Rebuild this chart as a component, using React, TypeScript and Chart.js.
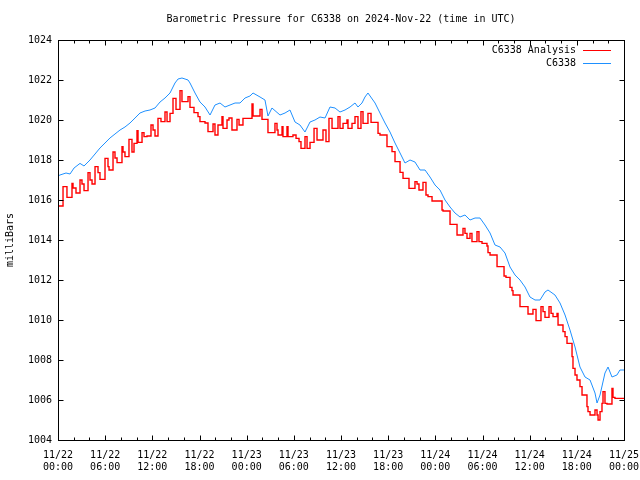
import React, { useEffect, useRef } from "react";
import { Chart, registerables } from "chart.js";

Chart.register(...registerables);

const chartTitle = "Barometric Pressure for C6338 on 2024-Nov-22 (time in UTC)";
const yAxisTitle = "milliBars";
const seriesNames = ["C6338 Analysis", "C6338"];

const xTickLabels = [
  ["11/22", "00:00"], ["11/22", "06:00"], ["11/22", "12:00"], ["11/22", "18:00"],
  ["11/23", "00:00"], ["11/23", "06:00"], ["11/23", "12:00"], ["11/23", "18:00"],
  ["11/24", "00:00"], ["11/24", "06:00"], ["11/24", "12:00"], ["11/24", "18:00"],
  ["11/25", "00:00"],
];

// hours since 11/22 00:00 UTC
const analysisHours = [
  0, 0.64, 1.14, 1.78, 1.91, 2.29, 2.8, 3.05, 3.31, 3.82, 4.07, 4.33, 4.71, 5.09, 5.34, 5.98,
  6.36, 6.49, 7.0, 7.25, 7.51, 8.14, 8.27, 8.52, 9.03, 9.41, 9.67, 10.05, 10.18, 10.69, 10.94,
  11.32, 11.83, 12.09, 12.34, 12.72, 13.1, 13.61, 13.87, 14.25, 14.63, 15.01, 15.52, 15.77,
  16.54, 16.79, 17.3, 17.81, 18.06, 18.7, 19.08, 19.72, 19.97, 20.35, 20.86, 20.99, 21.5,
  21.75, 22.13, 22.77, 23.03, 23.53, 24.68, 24.81, 25.7, 25.95, 26.71, 27.6, 27.86, 27.99,
  28.5, 28.62, 29.13, 29.26, 29.89, 30.28, 30.66, 30.91, 31.42, 31.68, 32.06, 32.57, 32.95,
  33.71, 34.09, 34.47, 34.86, 35.62, 35.87, 36.26, 36.76, 36.89, 37.4, 37.78, 38.16, 38.54,
  38.8, 39.43, 39.82, 40.71, 40.96, 41.85, 42.49, 42.87, 43.51, 43.89, 44.65, 45.41, 45.67,
  45.92, 46.43, 46.81, 47.07, 47.58, 48.85, 48.98, 49.87, 50.76, 51.52, 51.77, 52.03, 52.41,
  52.66, 53.3, 53.55, 53.94, 54.57, 54.7, 54.96, 55.85, 56.74, 56.99, 57.5, 57.75, 57.88,
  58.77, 59.79, 60.42, 60.81, 61.44, 61.7, 61.95, 62.46, 62.72, 62.97, 63.48, 63.61, 64.24,
  64.5, 64.75, 65.39, 65.51, 65.77, 66.02, 66.4, 66.66, 67.29, 67.42, 67.68, 68.31, 68.57,
  68.7, 68.95, 69.2, 69.33, 69.58, 69.84, 70.47, 70.6, 70.85, 72,
];
const analysisValues = [
  1015.7, 1016.67, 1016.13, 1016.83, 1016.6, 1016.35, 1017.0, 1016.8, 1016.47, 1017.37, 1017.0,
  1016.8, 1017.67, 1017.37, 1017.03, 1018.08, 1017.67, 1017.5, 1018.4, 1018.1, 1017.87, 1018.67,
  1018.4, 1018.17, 1019.03, 1018.4, 1018.83, 1019.47, 1018.88, 1019.37, 1019.17, 1019.2, 1019.75,
  1019.5, 1019.2, 1020.08, 1019.92, 1020.4, 1019.92, 1020.33, 1021.08, 1020.53, 1021.47, 1020.92,
  1021.17, 1020.63, 1020.37, 1020.17, 1019.92, 1019.85, 1019.42, 1019.8, 1019.25, 1019.75,
  1020.17, 1019.58, 1020.0, 1020.1, 1019.5, 1020.03, 1019.75, 1020.08, 1020.8, 1020.2, 1020.53,
  1020.03, 1019.37, 1019.83, 1019.5, 1019.25, 1019.67, 1019.17, 1019.67, 1019.17, 1019.25,
  1019.08, 1018.92, 1018.58, 1019.17, 1018.58, 1018.88, 1019.58, 1019.0, 1019.5, 1018.92,
  1020.08, 1019.58, 1020.17, 1019.58, 1019.83, 1020.0, 1019.58, 1019.83, 1020.17, 1019.58,
  1020.42, 1019.83, 1020.33, 1019.88, 1019.33, 1019.25, 1018.67, 1018.42, 1017.92, 1017.38,
  1017.08, 1016.58, 1016.92, 1016.8, 1016.5, 1016.88, 1016.25, 1016.17, 1015.95, 1015.5,
  1015.45, 1014.78, 1014.25, 1014.58, 1014.33, 1014.08, 1014.33, 1013.92, 1014.42, 1013.92,
  1013.83, 1013.7, 1013.37, 1013.25, 1012.67, 1012.2, 1012.13, 1011.63, 1011.47, 1011.25,
  1010.67, 1010.3, 1010.53, 1009.97, 1010.67, 1010.42, 1010.13, 1010.67, 1010.33, 1010.17,
  1010.33, 1009.75, 1009.42, 1009.17, 1008.83, 1008.17, 1007.58, 1007.25, 1007.0, 1006.67,
  1006.25, 1005.67, 1005.42, 1005.25, 1005.5, 1005.25, 1005.0, 1005.42, 1005.83, 1006.42,
  1005.83, 1005.8, 1006.58, 1006.13, 1006.08, 1006.08,
];

const stationHours = [
  0, 0.25, 1.02, 1.53, 2.04, 2.8, 3.31, 4.07, 4.71, 5.34, 5.98, 6.61, 7.25, 7.89, 8.52, 9.16,
  9.8, 10.43, 11.07, 11.7, 12.34, 12.98, 13.61, 14.25, 14.88, 15.27, 15.77, 16.16, 16.54, 16.79,
  17.43, 18.06, 18.7, 19.34, 19.97, 20.61, 21.24, 21.88, 22.52, 23.15, 23.79, 24.42, 24.81,
  25.7, 26.33, 26.71, 27.22, 28.24, 28.88, 29.51, 30.15, 30.78, 31.42, 32.06, 32.69, 33.33,
  33.97, 34.6, 35.24, 35.87, 36.51, 37.15, 37.78, 38.16, 38.67, 39.05, 39.43, 40.33, 40.96,
  41.6, 42.23, 42.87, 43.51, 44.14, 44.78, 45.41, 46.05, 46.69, 47.32, 47.96, 48.59, 49.23,
  49.87, 50.5, 51.14, 51.77, 52.41, 53.05, 53.68, 54.32, 54.96, 55.59, 56.23, 56.86, 57.5,
  58.14, 58.77, 59.41, 60.04, 60.68, 61.32, 61.95, 62.33, 63.22, 63.86, 64.5, 65.13, 65.77,
  66.4, 67.04, 67.68, 68.31, 68.57, 68.95, 69.58, 69.97, 70.47, 71.1, 71.48, 72,
];
const stationValues = [
  1017.2, 1017.25, 1017.35, 1017.3, 1017.6, 1017.83, 1017.7, 1018.0, 1018.3, 1018.6, 1018.85,
  1019.1, 1019.3, 1019.5, 1019.65, 1019.85, 1020.1, 1020.35, 1020.45, 1020.5, 1020.6, 1020.9,
  1021.1, 1021.35, 1021.85, 1022.05, 1022.1, 1022.05, 1022.0, 1021.85, 1021.35, 1020.9, 1020.65,
  1020.25, 1020.75, 1020.85, 1020.65, 1020.75, 1020.85, 1020.85, 1021.1, 1021.2, 1021.35,
  1021.15, 1021.0, 1020.2, 1020.6, 1020.25, 1020.35, 1020.5, 1019.9, 1019.75, 1019.4, 1019.9,
  1020.0, 1020.15, 1020.1, 1020.65, 1020.6, 1020.4, 1020.5, 1020.65, 1020.85, 1020.65, 1020.85,
  1021.15, 1021.35, 1020.85, 1020.35, 1019.85, 1019.4, 1018.85, 1018.35, 1017.85, 1018.0,
  1017.9, 1017.5, 1017.5, 1017.15, 1016.75, 1016.5, 1016.0, 1015.65, 1015.35, 1015.15, 1015.25,
  1015.0, 1015.1, 1015.1, 1014.75, 1014.35, 1013.75, 1013.65, 1013.35, 1012.65, 1012.25, 1012.0,
  1011.65, 1011.15, 1011.0, 1011.0, 1011.4, 1011.5, 1011.25, 1010.85, 1010.25, 1009.5, 1008.65,
  1007.65, 1007.15, 1007.0, 1006.35, 1005.85, 1006.25, 1007.35, 1007.65, 1007.15, 1007.25,
  1007.5, 1007.5,
];

const RED = "#ff0000";
const BLUE = "#1e90ff";
const FONT = "'DejaVu Sans Mono', 'Liberation Mono', monospace";

const gnuplotPlugin = {
  id: "gnuplotDecor",
  afterDraw(chart: any) {
    const { ctx, chartArea: a, scales } = chart;
    const xs = scales.x;
    const ys = scales.y;
    ctx.save();
    ctx.strokeStyle = "#000";
    ctx.lineWidth = 1;
    const L = Math.round(a.left) + 0.5;
    const R = Math.round(a.right) + 0.5;
    const T = Math.round(a.top) + 0.5;
    const B = Math.round(a.bottom) + 0.5;
    ctx.beginPath();
    // x ticks (major every 6h, minor every 2h)
    for (let h = 0; h <= 72; h += 2) {
      const px = Math.round(xs.getPixelForValue(h)) + 0.5;
      const len = h % 6 === 0 ? 5 : 3;
      ctx.moveTo(px, B);
      ctx.lineTo(px, B - len);
      ctx.moveTo(px, T);
      ctx.lineTo(px, T + len);
    }
    // y ticks
    for (const t of ys.ticks) {
      const py = Math.round(ys.getPixelForValue(t.value)) + 0.5;
      ctx.moveTo(L, py);
      ctx.lineTo(L + 5, py);
      ctx.moveTo(R, py);
      ctx.lineTo(R - 5, py);
    }
    ctx.stroke();
    ctx.strokeRect(L, T, R - L, B - T);

    ctx.fillStyle = "#000";
    ctx.font = `10px ${FONT}`;
    // title
    ctx.textAlign = "center";
    ctx.textBaseline = "middle";
    ctx.fillText(chartTitle, (a.left + a.right) / 2, 19);
    // y axis title
    ctx.save();
    ctx.translate(10, (a.top + a.bottom) / 2);
    ctx.rotate(-Math.PI / 2);
    ctx.fillText(yAxisTitle, 0, 0);
    ctx.restore();
    // legend
    ctx.textAlign = "right";
    chart.data.datasets.forEach((ds: any, i: number) => {
      const ly = a.top + 10 + i * 13;
      ctx.fillStyle = "#000";
      ctx.fillText(ds.label, a.right - 48, ly);
      ctx.strokeStyle = ds.borderColor;
      ctx.lineWidth = 1;
      ctx.beginPath();
      ctx.moveTo(a.right - 41, Math.round(ly) + 0.5);
      ctx.lineTo(a.right - 13, Math.round(ly) + 0.5);
      ctx.stroke();
    });
    ctx.restore();
  },
};

export default function App() {
  const ref = useRef<HTMLCanvasElement | null>(null);

  useEffect(() => {
    if (!ref.current) return;
    Chart.defaults.font.family = FONT;
    Chart.defaults.font.size = 10;
    Chart.defaults.color = "#000";
    const chart = new Chart(ref.current, {
      type: "line",
      data: {
        datasets: [
          {
            label: seriesNames[0],
            data: analysisHours.map((h, i) => ({ x: h, y: analysisValues[i] })),
            borderColor: RED,
            borderWidth: 1.4,
            pointRadius: 0,
            stepped: true,
            fill: false,
          },
          {
            label: seriesNames[1],
            data: stationHours.map((h, i) => ({ x: h, y: stationValues[i] })),
            borderColor: BLUE,
            borderWidth: 1,
            pointRadius: 0,
            tension: 0,
            fill: false,
          },
        ],
      },
      options: {
        animation: false,
        responsive: false,
        maintainAspectRatio: false,
        layout: { padding: { top: 40, right: 16, left: 0, bottom: 0 } },
        plugins: {
          legend: { display: false },
          title: { display: false },
          tooltip: { enabled: false },
        },
        scales: {
          x: {
            type: "linear",
            min: 0,
            max: 72,
            grid: { display: false, drawTicks: false },
            border: { display: false },
            afterFit: (s: any) => {
              s.height = 40;
              s.paddingLeft = 0;
              s.paddingRight = 0;
            },
            ticks: {
              stepSize: 6,
              autoSkip: false,
              maxRotation: 0,
              padding: 9,
              font: { size: 10, family: FONT, lineHeight: 1.2 },
              callback: (v: any) => xTickLabels[Math.round(Number(v) / 6)] || "",
            },
          },
          y: {
            type: "linear",
            min: 1004,
            max: 1024,
            grid: { display: false, drawTicks: false },
            border: { display: false },
            afterFit: (s: any) => {
              s.width = 58;
              s.paddingTop = 0;
              s.paddingBottom = 0;
            },
            ticks: {
              stepSize: 2,
              padding: 6,
              font: { size: 10, family: FONT },
              callback: (v: any) => String(v),
            },
          },
        },
      },
      plugins: [gnuplotPlugin],
    });
    return () => chart.destroy();
  }, []);

  return (
    <div style={{ position: "fixed", left: 0, top: 0, width: 640, height: 480, background: "#fff" }}>
      <canvas ref={ref} width={640} height={480} style={{ width: 640, height: 480 }} />
    </div>
  );
}
